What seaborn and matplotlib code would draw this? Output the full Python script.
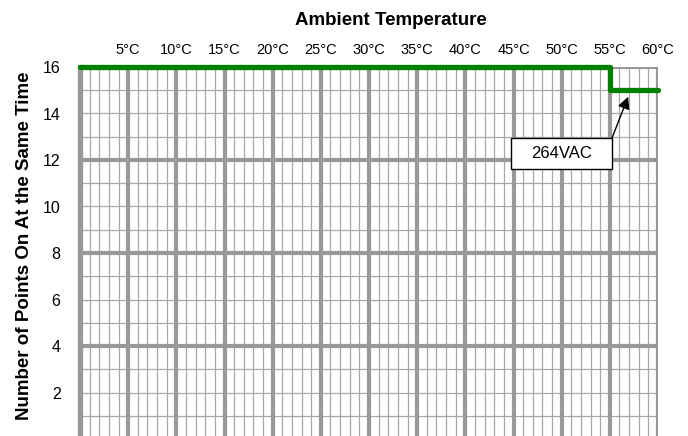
import matplotlib
matplotlib.use("Agg")
import matplotlib.pyplot as plt
from matplotlib.patches import Rectangle
import seaborn as sns
import numpy as np
import pandas as pd

# ---- data ----
temps = [0, 55, 60]            # ambient temperature (°C)
points_on = [16, 15, 15]       # number of points on at the same time
x_tick_vals = [5, 10, 15, 20, 25, 30, 35, 40, 45, 50, 55, 60]
x_tick_labels = ["5°C", "10°C", "15°C", "20°C", "25°C", "30°C", "35°C",
                 "40°C", "45°C", "50°C", "55°C", "60°C"]
y_tick_vals = [2, 4, 6, 8, 10, 12, 14, 16]
annot_text = "264VAC"

sns.set_theme(style="white")
plt.rcParams["font.family"] = ["Liberation Sans", "DejaVu Sans"]
plt.rcParams["text.color"] = "black"
plt.rcParams["axes.labelcolor"] = "black"
plt.rcParams["xtick.color"] = "black"
plt.rcParams["ytick.color"] = "black"

fig = plt.figure(figsize=(6.88, 4.36), dpi=100)
ax = fig.add_axes([80/688, (436-439)/436, (658-80)/688, (439-67)/436])

xmin, xmax, ymin, ymax = 0, 60, 0, 16
ax.set_xlim(xmin, xmax)
ax.set_ylim(ymin, ymax)

thick_c = "#999999"
thin_c = "#a8a8a8"
# minor grid
for xv in np.arange(xmin, xmax + 1, 1):
    if xv % 5:
        ax.axvline(xv, color=thin_c, lw=0.9, zorder=1)
for yv in np.arange(ymin, ymax + 1, 1):
    if yv % 4:
        ax.axhline(yv, color=thin_c, lw=0.9, zorder=1)
# major grid
for xv in np.arange(xmin, xmax + 1, 5):
    ax.axvline(xv, color=thick_c, lw=3.0, zorder=2)
for yv in np.arange(ymin, ymax + 1, 4):
    ax.axhline(yv, color=thick_c, lw=3.0, zorder=2)

df = pd.DataFrame({"temp": temps, "points": points_on})
sns.lineplot(data=df, x="temp", y="points", drawstyle="steps-post",
             color="#008000", lw=3.8, ax=ax, zorder=5, clip_on=False)

for s in ax.spines.values():
    s.set_visible(False)
ax.spines["left"].set_visible(True)
ax.spines["left"].set_color(thick_c)
ax.spines["left"].set_linewidth(3.8)

ax.xaxis.tick_top()
ax.xaxis.set_label_position("top")
ax.set_xticks(x_tick_vals)
ax.set_xticklabels(x_tick_labels, fontsize=10.5)
ax.set_yticks(y_tick_vals)
ax.set_yticklabels([str(v) for v in y_tick_vals], fontsize=11.5)
ax.tick_params(axis="both", length=0)
ax.tick_params(axis="x", pad=7)
ax.tick_params(axis="y", pad=14)

ax.set_xlabel("Ambient Temperature", fontsize=13.5, fontweight="bold")
ax.xaxis.set_label_coords(0.537, 1.113)
ax.set_ylabel("Number of Points On At the Same Time", fontsize=13.5, fontweight="bold")
ax.yaxis.set_label_coords(-0.081, 0.52)

# annotation box + arrow
bx0, bx1, by0, by1 = 44.74, 55.23, 11.61, 12.95
ax.add_patch(Rectangle((bx0, by0), bx1 - bx0, by1 - by0, fc="white", ec="black",
                       lw=1.0, zorder=6))
ax.text((bx0 + bx1) / 2, (by0 + by1) / 2, annot_text, ha="center", va="center",
        fontsize=12, zorder=7)
ax.annotate("", xy=(56.9, 14.72), xytext=(bx1, by1), zorder=7,
            arrowprops=dict(arrowstyle="-|>", color="black", lw=1.0,
                            mutation_scale=18, shrinkA=0, shrinkB=0))

fig.savefig("out.png", dpi=100)
